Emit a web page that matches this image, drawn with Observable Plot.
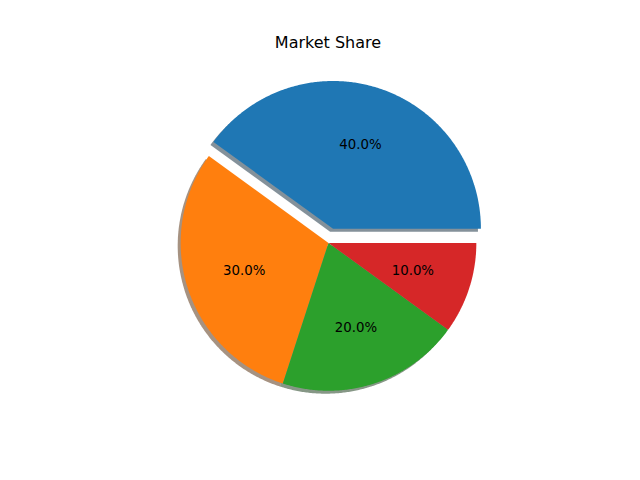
<!DOCTYPE html>
<html>
<head>
<meta charset="utf-8">
<script src="https://cdn.jsdelivr.net/npm/d3@7"></script>
<script src="https://cdn.jsdelivr.net/npm/@observablehq/plot@0.6"></script>
<style>
  body { margin: 0; background: #fff; font-family: "DejaVu Sans", sans-serif; }
  #title { position: relative; width: 640px; height: 58px; }
  #title span { position: absolute; left: 16px; width: 624px; top: 35px; line-height: 16px; font-size: 16px; text-align: center; color: #000; }
</style>
</head>
<body>
<div id="title"><span>Market Share</span></div>
<div id="chart"></div>
<script>
const categories = ["A", "B", "C", "D"];
const values = [40, 30, 20, 10];
const colors = ["#1f77b4", "#ff7f0e", "#2ca02c", "#d62728"];
const explode = [0.1, 0, 0, 0];
const title = "Market Share";

const total = d3.sum(values);
const wedges = [];
const shadows = [];
const labels = [];
let start = 0;
categories.forEach((c, i) => {
  const a0 = start * 2 * Math.PI / total;
  const a1 = (start + values[i]) * 2 * Math.PI / total;
  start += values[i];
  const mid = (a0 + a1) / 2;
  const cx = explode[i] * Math.cos(mid);
  const cy = explode[i] * Math.sin(mid);
  const pts = [[cx, cy]];
  const n = Math.max(2, Math.ceil((a1 - a0) / (Math.PI / 360)));
  for (let k = 0; k <= n; k++) {
    const a = a0 + (a1 - a0) * k / n;
    pts.push([cx + Math.cos(a), cy + Math.sin(a)]);
  }
  const sc = d3.rgb(colors[i]);
  const shadowColor = d3.rgb(sc.r * 0.3, sc.g * 0.3, sc.b * 0.3).formatHex();
  pts.forEach(([x, y]) => {
    wedges.push({key: c, x, y, color: colors[i]});
    shadows.push({key: c, x: x - 0.02, y: y - 0.02, color: shadowColor});
  });
  labels.push({x: cx + 0.6 * Math.cos(mid), y: cy + 0.6 * Math.sin(mid), text: (100 * values[i] / total).toFixed(1) + "%"});
});

const unit = 147.84;
const plot = Plot.plot({
  width: 640,
  height: 422,
  margin: 0,
  x: {domain: [-328 / unit, (640 - 328) / unit], axis: null},
  y: {domain: [(242.4 - 480) / unit, (242.4 - 58) / unit], axis: null},
  color: {type: "identity"},
  style: {fontFamily: "DejaVu Sans, sans-serif", background: "#fff"},
  marks: [
    Plot.line(shadows, {x: "x", y: "y", z: "key", fill: "color", fillOpacity: 0.5, stroke: "none", curve: "linear-closed"}),
    Plot.line(wedges, {x: "x", y: "y", z: "key", fill: "color", stroke: "none", curve: "linear-closed"}),
    Plot.text(labels, {x: "x", y: "y", text: "text", fontSize: 13.33, fill: "#000", textAnchor: "middle", lineAnchor: "middle"})
  ]
});
document.getElementById("chart").appendChild(plot);
</script>
</body>
</html>
